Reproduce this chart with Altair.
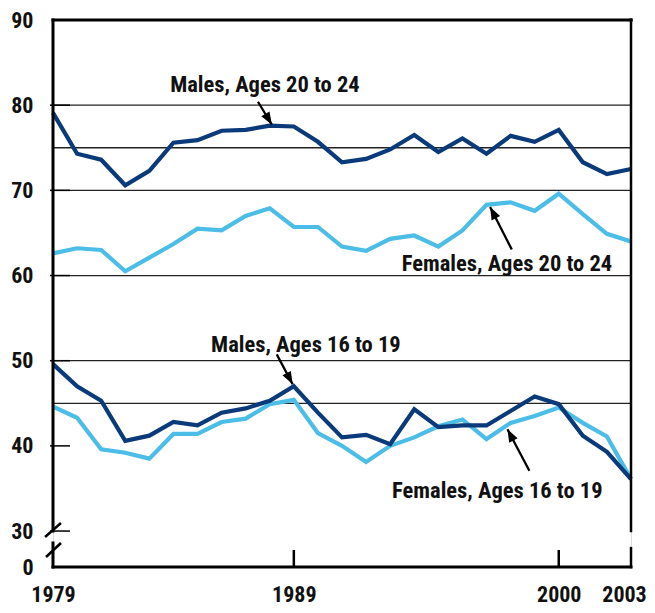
import altair as alt
import pandas as pd

years = list(range(1979, 2004))
males_20_24 = [79.1, 74.3, 73.6, 70.6, 72.3, 75.6, 75.9, 77.0, 77.1, 77.6, 77.5, 75.7,
               73.3, 73.7, 74.8, 76.5, 74.5, 76.1, 74.3, 76.4, 75.7, 77.1, 73.3, 71.9, 72.5]
females_20_24 = [62.6, 63.2, 63.0, 60.5, 62.1, 63.7, 65.5, 65.3, 67.0, 67.9, 65.7, 65.7,
                 63.4, 62.9, 64.3, 64.7, 63.4, 65.3, 68.3, 68.6, 67.6, 69.6, 67.2, 64.9, 64.0]
males_16_19 = [49.6, 47.0, 45.3, 40.6, 41.2, 42.8, 42.4, 43.9, 44.4, 45.3, 47.0, 43.9,
               41.0, 41.3, 40.2, 44.3, 42.2, 42.4, 42.4, 44.1, 45.8, 44.9, 41.2, 39.3, 36.1]
females_16_19 = [44.6, 43.3, 39.6, 39.2, 38.5, 41.4, 41.4, 42.8, 43.2, 44.9, 45.4, 41.5,
                 40.0, 38.1, 40.0, 41.0, 42.3, 43.1, 40.8, 42.7, 43.5, 44.5, 42.7, 41.1, 36.1]

series_names = ["Females, Ages 20 to 24", "Females, Ages 16 to 19",
                "Males, Ages 20 to 24", "Males, Ages 16 to 19"]
series_values = [females_20_24, females_16_19, males_20_24, males_16_19]
series_order = [0, 1, 2, 3]

x_ticks = [1979, 1989, 2000, 2003]
y_break_bottom = 25.78  # position of the "0" label below the axis break
y_ticks = [y_break_bottom, 30, 40, 50, 60, 70, 80, 90]
grid_values = [45, 50, 60, 70, 75, 80]

# annotations
ann_labels = ["Males, Ages 20 to 24", "Females, Ages 20 to 24",
              "Males, Ages 16 to 19", "Females, Ages 16 to 19"]
ann_x = [1987.8, 1997.85, 1989.5, 1997.45]
ann_y = [82.4, 61.3, 51.9, 34.7]
arrow_x1 = [1987.51, 1998.05, 1988.29, 1998.78]
arrow_y1 = [80.4, 63.05, 50.74, 37.07]
arrow_x2 = [1988.09, 1997.15, 1988.95, 1997.87]
arrow_y2 = [77.7, 68.05, 47.23, 41.95]
arrow_angle = [149, 333, 152, 332]

NAVY = "#0b3a7a"
LIGHT = "#4bbde6"
FONT = "Liberation Sans Narrow, Roboto Condensed, DejaVu Sans Condensed, Liberation Sans"

rows = []
for name, vals, o in zip(series_names, series_values, series_order):
    for yr, v in zip(years, vals):
        rows.append({"year": yr, "rate": v, "series": name, "order": o})
df = pd.DataFrame(rows)

xs = alt.Scale(domain=[1979, 2003], nice=False, zero=False)
ys = alt.Scale(domain=[y_break_bottom, 90], nice=False, zero=False)

base_x_axis = alt.Axis(values=x_ticks, format="d", title=None, grid=False, ticks=False,
                       domain=False, labelFont=FONT, labelFontSize=22, labelFontWeight="bold",
                       labelColor="#111", labelPadding=17, labelFlush=False, labelOverlap=False,
                       labelOffset={"condition": {"test": "datum.value == 2003", "value": -7},
                                    "value": 0})
base_y_axis = alt.Axis(values=y_ticks, title=None, grid=False, ticks=False, domain=False,
                       labelFont=FONT, labelFontSize=22, labelFontWeight="bold", labelColor="#111",
                       labelPadding=20, labelOverlap=False,
                       labelExpr="datum.value < 29 ? '0' : datum.label")

grid = alt.Chart(pd.DataFrame({"v": grid_values})).mark_rule(color="#222", strokeWidth=1.3).encode(
    y=alt.Y("v:Q", scale=ys, axis=base_y_axis)
)

lines = alt.Chart(df).mark_line(strokeWidth=4.2, strokeJoin="miter").encode(
    x=alt.X("year:Q", scale=xs, axis=base_x_axis),
    y=alt.Y("rate:Q", scale=ys),
    color=alt.Color("series:N", scale=alt.Scale(domain=series_names,
                                                range=[LIGHT, LIGHT, NAVY, NAVY]), legend=None),
    detail="series:N",
    order="order:Q",
)

# frame: segments in data coordinates
frame_df = pd.DataFrame({
    "x": [1979, 2003, 1979, 1979, 1979, 2003, 2003],
    "x2": [2003, 2003, 1979, 1979, 2003, 2003, 2003],
    "y": [90, 90, 90, 28.6, y_break_bottom, 90, 28.0],
    "y2": [90, 90, 30, y_break_bottom, y_break_bottom, 30, y_break_bottom],
    "w": [3, 3, 3, 3, 3, 2.5, 2.5],
})
frame = alt.Chart(frame_df).mark_rule(color="#000", strokeCap="square").encode(
    x=alt.X("x:Q", scale=xs), x2="x2:Q",
    y=alt.Y("y:Q", scale=ys), y2="y2:Q",
    strokeWidth=alt.StrokeWidth("w:Q", scale=None),
)

# break slashes
slash_df = pd.DataFrame({
    "x": [1978.67, 1978.71], "y": [29.3, 26.95],
    "x2": [1979.33, 1979.33], "y2": [30.94, 28.6],
})
slashes = alt.Chart(slash_df).mark_rule(color="#000", strokeWidth=2.5).encode(
    x=alt.X("x:Q", scale=xs), x2="x2:Q", y=alt.Y("y:Q", scale=ys), y2="y2:Q"
)

# inward y ticks
ytick_df = pd.DataFrame({"v": [30, 40, 50, 60, 70, 80]})
yticks = alt.Chart(ytick_df).mark_rule(color="#000", strokeWidth=1.5).encode(
    y=alt.Y("v:Q", scale=ys), x=alt.value(-3), x2=alt.value(17)
)
# inward x ticks
xtick_df = pd.DataFrame({"v": [1989, 2000]})
xticks = alt.Chart(xtick_df).mark_rule(color="#000", strokeWidth=2.5).encode(
    x=alt.X("v:Q", scale=xs), y=alt.value(547), y2=alt.value(530)
)

ann_df = pd.DataFrame({"label": ann_labels, "x": ann_x, "y": ann_y})
ann_text = alt.Chart(ann_df).mark_text(font=FONT, fontSize=22.5, fontWeight="bold",
                                       color="#111", align="center", baseline="middle").encode(
    x=alt.X("x:Q", scale=xs), y=alt.Y("y:Q", scale=ys), text="label:N"
)

arrow_df = pd.DataFrame({"x": arrow_x1, "y": arrow_y1, "x2": arrow_x2, "y2": arrow_y2,
                         "angle": arrow_angle})
shafts = alt.Chart(arrow_df).mark_rule(color="#000", strokeWidth=2.3).encode(
    x=alt.X("x:Q", scale=xs), x2="x2:Q", y=alt.Y("y:Q", scale=ys), y2="y2:Q"
)
heads = alt.Chart(arrow_df).mark_point(shape="M0,0L0.75,2L-0.75,2Z", size=160, filled=True,
                                       color="#000", opacity=1).encode(
    x=alt.X("x2:Q", scale=xs), y=alt.Y("y2:Q", scale=ys),
    angle=alt.Angle("angle:Q", scale=None),
)

chart = alt.layer(grid, lines, frame, slashes, yticks, xticks, shafts, heads, ann_text).properties(
    width=578, height=547,
    autosize=alt.AutoSizeParams(type="none"),
    padding={"left": 45, "top": 12, "right": 16, "bottom": 38},
).configure_view(stroke=None).configure(background="white")

chart.save("out.html", embed_options={"renderer": "svg", "actions": False})
